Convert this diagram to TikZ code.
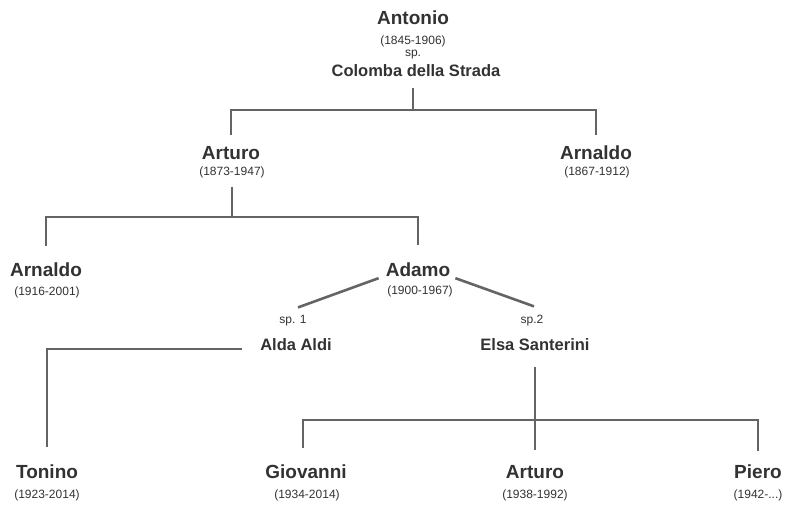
\documentclass[tikz,border=0pt]{standalone}
\usepackage{fontspec}
\setmainfont{Liberation Sans}
\usepackage{tikz}
\usetikzlibrary{calc}
\definecolor{linegray}{RGB}{100,100,100}
\definecolor{textgray}{RGB}{50,50,50}

\begin{document}
\begin{tikzpicture}[x=1pt, y=-1pt,
  person/.style={font=\bfseries\fontsize{19}{21}\selectfont, text=textgray, inner sep=1pt},
  spouse/.style={font=\bfseries\fontsize{16.5}{19}\selectfont, text=textgray, inner sep=1pt},
  years/.style={font=\fontsize{12}{14}\selectfont, text=textgray, inner sep=1pt},
  link/.style={draw=linegray, line width=2.6pt}]
  \useasboundingbox (0,0) rectangle (790,505);

  \node[person] (antonio) at (413,18) {Antonio};
  \node[years] (antonioy) at (413,41) {(1845-1906)};
  \node[years] (antoniosp) at (413,55) {sp.};
  \node[spouse] (colomba) at (416,71) {Colomba della Strada};

  \node[person] (arturo) at (231,153) {Arturo};
  \node[years] (arturoy) at (232,172) {(1873-1947)};
  \node[person] (arnaldoR) at (596,153) {Arnaldo};
  \node[years] (arnaldoRy) at (597,172) {(1867-1912)};

  \node[person] (arnaldoL) at (46,270) {Arnaldo};
  \node[years] (arnaldoLy) at (47,292) {(1916-2001)};
  \node[person] (adamo) at (418,270) {Adamo};
  \node[years] (adamoy) at (420,291) {(1900-1967)};

  \node[years] (sp1) at (293,321) {sp. 1};
  \node[spouse] (alda) at (296,345) {Alda Aldi};
  \node[years] (sp2) at (532,321) {sp.2};
  \node[spouse] (elsa) at (535,345) {Elsa Santerini};

  \node[person] (tonino) at (47,472) {Tonino};
  \node[years] (toninoy) at (47,495) {(1923-2014)};
  \node[person] (giovanni) at (306,472) {Giovanni};
  \node[years] (giovanniy) at (307,495) {(1934-2014)};
  \node[person] (arturoB) at (535,472) {Arturo};
  \node[years] (arturoBy) at (535,495) {(1938-1992)};
  \node[person] (piero) at (758,472) {Piero};
  \node[years] (pieroy) at (758,495) {(1942-...)};

  \coordinate (top) at (413,110);
  \coordinate (mid) at (232,217);
  \coordinate (low) at (535,420);

  \draw[link] ($(top |- colomba.south)+(0,10)$) -- (top);
  \draw[link] ([yshift=10pt]arturo.north) |- (top) -| ([yshift=10pt]arnaldoR.north);

  \draw[link] ([yshift=-8pt]arturoy.south) -- (mid);
  \draw[link] ([yshift=16pt]arnaldoL.north) |- (mid) -| ([yshift=17pt]adamo.north);

  \draw[link] ([xshift=-6pt]adamo.south west) -- ([xshift=5pt,yshift=7pt]sp1.north);
  \draw[link] ([xshift=4pt]adamo.south east) -- ([xshift=2pt,yshift=8pt]sp2.north);

  \draw[link] ([shift={(-17pt,-4pt)}]alda.west) -| ([yshift=17pt]tonino.north);

  \draw[link] ([yshift=-15pt]elsa.south) -- ([yshift=14pt]arturoB.north);
  \draw[link] ([xshift=-3pt,yshift=16pt]giovanni.north) |- (low) -| ([yshift=13pt]piero.north);
\end{tikzpicture}
\end{document}
